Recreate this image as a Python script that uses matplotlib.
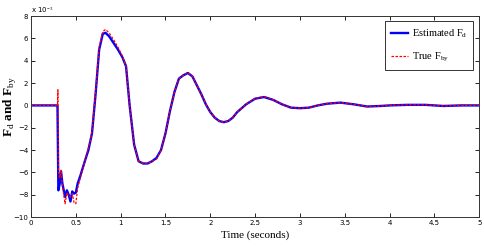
import numpy as np
import matplotlib.pyplot as plt

# Estimated disturbance force (x 1e-3)
t_est = [0, 0.295, 0.305, 0.32, 0.335, 0.35, 0.38, 0.40, 0.42, 0.44, 0.46, 0.48,
         0.50, 0.52, 0.55, 0.60, 0.64, 0.68, 0.72, 0.76, 0.80, 0.83, 0.87, 0.92,
         0.97, 1.02, 1.06, 1.10, 1.15, 1.20, 1.25, 1.30, 1.35, 1.40, 1.45, 1.50,
         1.55, 1.60, 1.65, 1.70, 1.75, 1.80, 1.85, 1.90, 1.95, 2.00, 2.05, 2.10,
         2.15, 2.20, 2.25, 2.30, 2.40, 2.50, 2.60, 2.70, 2.80, 2.90, 3.00, 3.10,
         3.20, 3.30, 3.45, 3.60, 3.75, 3.90, 4.00, 4.20, 4.40, 4.60, 4.80, 5.00]
f_est = [0, 0, -7.6, -7.0, -5.9, -7.0, -8.2, -7.6, -8.0, -8.6, -7.7, -7.9,
         -7.8, -7.0, -6.3, -5.0, -4.0, -2.5, 1.0, 5.0, 6.4, 6.5, 6.2, 5.6,
         5.0, 4.3, 3.5, 0.0, -3.5, -5.0, -5.2, -5.2, -5.0, -4.7, -4.0, -2.5,
         -0.5, 1.2, 2.4, 2.7, 2.9, 2.6, 1.8, 1.0, 0.1, -0.6, -1.1, -1.4,
         -1.5, -1.4, -1.1, -0.6, 0.1, 0.6, 0.75, 0.5, 0.1, -0.2, -0.25, -0.2,
         0.0, 0.15, 0.25, 0.1, -0.1, -0.05, 0.0, 0.05, 0.05, -0.05, 0.0, 0.0]

# True lateral force (x 1e-3)
t_true = [0, 0.295, 0.30, 0.305, 0.32, 0.335, 0.35, 0.38, 0.40, 0.42, 0.44, 0.46,
          0.48, 0.50, 0.52, 0.55, 0.60, 0.66, 0.68, 0.72, 0.76, 0.80, 0.83, 0.87,
          0.92, 0.97, 1.02, 1.06, 1.10, 1.15, 1.20, 1.25, 1.30, 1.35, 1.40, 1.45,
          1.50, 1.55, 1.60, 1.65, 1.70, 1.75, 1.80, 1.85, 1.90, 1.95, 2.00, 2.05,
          2.10, 2.15, 2.20, 2.25, 2.30, 2.40, 2.50, 2.60, 2.70, 2.80, 2.90, 3.00,
          3.10, 3.20, 3.30, 3.45, 3.60, 3.75, 3.90, 4.00, 4.20, 4.40, 4.60, 4.80, 5.00]
f_true = [0, 0, 1.4, -6.0, -6.5, -5.8, -7.2, -8.8, -7.8, -8.1, -8.2, -7.9,
          -8.7, -8.8, -7.4, -6.5, -5.0, -3.2, -2.3, 1.2, 5.2, 6.6, 6.8, 6.5,
          5.9, 5.2, 4.4, 3.5, 0.0, -3.5, -5.0, -5.2, -5.2, -5.0, -4.8, -4.0,
          -2.5, -0.5, 1.2, 2.4, 2.7, 2.95, 2.6, 1.8, 1.0, 0.1, -0.6, -1.1,
          -1.4, -1.5, -1.4, -1.1, -0.6, 0.1, 0.6, 0.8, 0.5, 0.1, -0.2, -0.25,
          -0.2, 0.0, 0.15, 0.25, 0.1, -0.1, -0.05, 0.0, 0.05, 0.05, -0.05, 0.0, 0.0]

x_ticks = [0, 0.5, 1, 1.5, 2, 2.5, 3, 3.5, 4, 4.5, 5]
x_tick_labels = ['0', '0.5', '1', '1.5', '2', '2.5', '3', '3.5', '4', '4.5', '5']
y_ticks = [-10, -8, -6, -4, -2, 0, 2, 4, 6, 8]

plt.rcParams['mathtext.fontset'] = 'custom'
plt.rcParams['mathtext.rm'] = 'Liberation Serif'
plt.rcParams['mathtext.bf'] = 'Liberation Serif:bold'

fig = plt.figure(figsize=(4.85, 2.47), dpi=100)
ax = fig.add_axes([0.064, 0.121, 0.924, 0.814])

ax.plot(t_est, f_est, color='#0000ff', linewidth=1.7, label=r'Estimated F$_{\rm d}$')
ax.plot(t_true, f_true, color='#ff0000', linewidth=0.9, linestyle='--',
        dashes=(2, 1.2), label=r'True F$_{\rm by}$')

ax.set_xlim(0, 5)
ax.set_ylim(-10, 8)
ax.set_xticks(x_ticks)
ax.set_xticklabels(x_tick_labels)
ax.set_yticks(y_ticks)
ax.tick_params(direction='in', top=True, right=True, labelsize=5, length=3,
               width=0.6, pad=2)
for s in ax.spines.values():
    s.set_linewidth(0.7)
    s.set_color('#333333')

ax.text(0.0, 1.005, r'x 10$^{-3}$', transform=ax.transAxes, fontsize=5,
        va='bottom', ha='left')

ax.set_xlabel('Time (seconds)', family='Liberation Serif', fontsize=8, labelpad=3)
ax.set_ylabel(r'F$_{\rm d}$ and F$_{\rm by}$', family='Liberation Serif',
              fontsize=9.5, fontweight='bold')
ax.yaxis.set_label_coords(-0.029, 0.55)

leg = ax.legend(loc='upper right', bbox_to_anchor=(0.987, 0.975),
                prop={'family': 'Liberation Serif', 'size': 7.5},
                fancybox=False, edgecolor='#333333', framealpha=1,
                handlelength=1.7, handletextpad=0.3, borderpad=0.6,
                labelspacing=1.0, borderaxespad=0)
leg.get_frame().set_linewidth(0.7)

fig.savefig('out.png', dpi=100)
